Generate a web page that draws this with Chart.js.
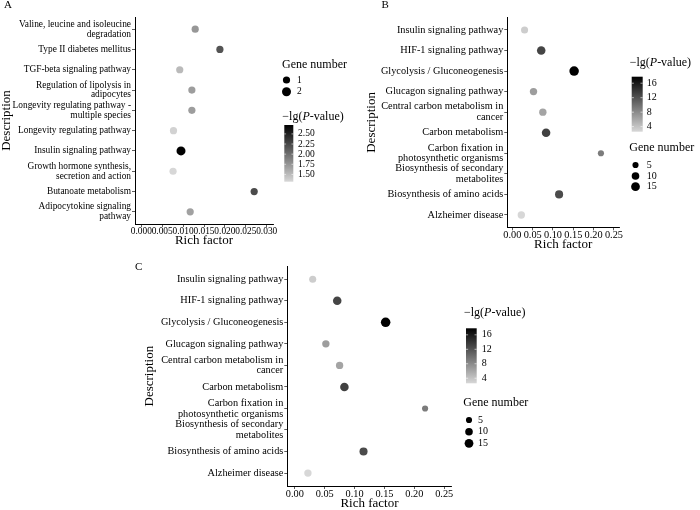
<!DOCTYPE html>
<html>
<head>
<meta charset="utf-8">
<script src="https://cdn.jsdelivr.net/npm/chart.js@4.4.0/dist/chart.umd.min.js"></script>
<style>
  body { margin: 0; background: #fff; }
  #wrap { position: relative; width: 700px; height: 510px; overflow: hidden; }
  canvas { position: absolute; }
</style>
</head>
<body>
<div id="wrap">
  <canvas id="chart-a" width="350" height="250" style="left:0;top:0"></canvas>
  <canvas id="chart-b" width="350" height="250" style="left:350px;top:0"></canvas>
  <canvas id="chart-c" width="420" height="260" style="left:130px;top:250px"></canvas>
</div>
<script>
// panel A, top to bottom
const pathwaysA = [
  "Valine, leucine and isoleucine\ndegradation",
  "Type II diabetes mellitus",
  "TGF-beta signaling pathway",
  "Regulation of lipolysis in\nadipocytes",
  "Longevity regulating pathway -\nmultiple species",
  "Longevity regulating pathway",
  "Insulin signaling pathway",
  "Growth hormone synthesis,\nsecretion and action",
  "Butanoate metabolism",
  "Adipocytokine signaling\npathway"
];
const richA = [0.0129, 0.0188, 0.0092, 0.0121, 0.0121, 0.0077, 0.0095, 0.0076, 0.0270, 0.0117];
const genesA = [1, 1, 1, 1, 1, 1, 2, 1, 1, 1];
const lgpA = [1.74, 2.17, 1.51, 1.70, 1.70, 1.35, 2.72, 1.32, 2.23, 1.67];
const xTicksA = [0, 0.005, 0.010, 0.015, 0.020, 0.025, 0.030];
const geneBreaksA = [1, 2];
const lgpBreaksA = [1.50, 1.75, 2.00, 2.25, 2.50];

// panels B and C (same data), top to bottom
const pathwaysBC = [
  "Insulin signaling pathway",
  "HIF-1 signaling pathway",
  "Glycolysis / Gluconeogenesis",
  "Glucagon signaling pathway",
  "Central carbon metabolism in\ncancer",
  "Carbon metabolism",
  "Carbon fixation in\nphotosynthetic organisms",
  "Biosynthesis of secondary\nmetabolites",
  "Biosynthesis of amino acids",
  "Alzheimer disease"
];
const richBC = [0.030, 0.071, 0.152, 0.052, 0.075, 0.083, 0.218, null, 0.115, 0.022];
const genesBC = [8, 14, 19, 9, 9, 14, 5, null, 12, 9];
const lgpBC = [3.3, 12.9, 17.8, 6.7, 6.2, 13.2, 9.0, null, 12.5, 2.6];
const xTicksBC = [0, 0.05, 0.10, 0.15, 0.20, 0.25];
const geneBreaksBC = [5, 10, 15];
const lgpBreaksBC = [4, 8, 12, 16];

const FONT = '"Liberation Serif", "Times New Roman", serif';
const INK = '#000';

function grey(v, lo, hi) {
  const t = (v - lo) / (hi - lo);
  const g = Math.round(215 * (1 - t));
  return 'rgb(' + g + ',' + g + ',' + g + ')';
}

function drawLgTitle(ctx, x, y) {
  let cx = x;
  [['\u2212lg(', ''], ['P', 'italic '], ['-value)', '']].forEach(([t, st]) => {
    ctx.font = st + '12px ' + FONT;
    ctx.fillText(t, cx, y);
    cx += ctx.measureText(t).width;
  });
}

function sidePlugin(o) {
  return {
    id: 'side',
    afterDraw(chart) {
      const ctx = chart.ctx;
      ctx.save();
      ctx.fillStyle = INK;
      ctx.textAlign = 'left';
      ctx.textBaseline = 'middle';
      ctx.font = '11px ' + FONT;
      ctx.fillText(o.letter, o.letterX, o.letterY);

      // gene number legend
      const g = o.gene;
      ctx.font = '12px ' + FONT;
      ctx.fillText('Gene number', g.x, g.titleY);
      ctx.font = o.legendSize + 'px ' + FONT;
      o.geneBreaks.forEach((n, i) => {
        ctx.beginPath();
        ctx.arc(g.cx, g.rows[i], o.radius(n), 0, Math.PI * 2);
        ctx.fill();
        ctx.fillText(String(n), g.labelX, g.rows[i]);
      });

      // colour bar
      const c = o.cbar;
      const lo = Math.min(...o.lgp.filter(v => v != null));
      const hi = Math.max(...o.lgp.filter(v => v != null));
      drawLgTitle(ctx, c.x - 2, c.titleY);
      const grad = ctx.createLinearGradient(0, c.top, 0, c.bottom);
      grad.addColorStop(0, grey(hi, lo, hi));
      grad.addColorStop(1, grey(lo, lo, hi));
      ctx.fillStyle = grad;
      ctx.fillRect(c.x, c.top, c.w, c.bottom - c.top);
      ctx.font = o.legendSize + 'px ' + FONT;
      o.lgpBreaks.forEach(v => {
        const y = c.bottom - (v - lo) / (hi - lo) * (c.bottom - c.top);
        ctx.strokeStyle = '#fff';
        ctx.lineWidth = 0.6;
        ctx.beginPath();
        ctx.moveTo(c.x, y); ctx.lineTo(c.x + c.w / 5, y);
        ctx.moveTo(c.x + c.w, y); ctx.lineTo(c.x + c.w * 4 / 5, y);
        ctx.stroke();
        ctx.fillStyle = INK;
        ctx.fillText(o.lgpFmt(v), c.labelX, y);
      });
      ctx.restore();
    }
  };
}

function makeChart(id, o) {
  const pts = [], cols = [];
  const lo = Math.min(...o.lgp.filter(v => v != null));
  const hi = Math.max(...o.lgp.filter(v => v != null));
  o.pathways.forEach((p, i) => {
    if (o.rich[i] == null) return;
    pts.push({ x: o.rich[i], y: i, r: o.radius(o.genes[i]) });
    cols.push(grey(o.lgp[i], lo, hi));
  });
  const tickFont = { family: FONT, size: o.tickSize, lineHeight: 1.05 };
  const axisGrid = { drawOnChartArea: false, drawTicks: true, tickLength: 3, color: '#333', lineWidth: 0.8 };
  const axisBorder = { display: true, color: '#000', width: 1 };
  return new Chart(document.getElementById(id), {
    type: 'bubble',
    data: {
      datasets: [{
        data: pts,
        backgroundColor: cols,
        borderWidth: 0
      }]
    },
    options: {
      responsive: false,
      animation: false,
      events: [],
      layout: { padding: o.padding },
      plugins: { legend: { display: false }, tooltip: { enabled: false } },
      scales: {
        x: {
          type: 'linear',
          min: o.xMin,
          max: o.xMax,
          grid: axisGrid,
          border: axisBorder,
          afterBuildTicks: s => { s.ticks = o.xTicks.map(v => ({ value: v })); },
          afterFit: s => { s.height = o.xHeight; },
          ticks: {
            autoSkip: false, maxRotation: 0, minRotation: 0, padding: o.xTickPad,
            color: INK, font: tickFont,
            callback: v => v.toFixed(o.decimals)
          },
          title: {
            display: true, text: 'Rich factor', color: INK,
            font: { family: FONT, size: 13, lineHeight: 1 },
            padding: { top: 0, bottom: o.xTitlePad }
          }
        },
        y: {
          type: 'linear',
          reverse: true,
          min: -0.6,
          max: o.pathways.length - 0.4,
          grid: axisGrid,
          border: axisBorder,
          afterBuildTicks: s => { s.ticks = o.pathways.map((p, i) => ({ value: i })); },
          afterFit: s => { s.width = o.yWidth; },
          ticks: {
            autoSkip: false, padding: 1, color: INK, font: tickFont,
            callback: v => (o.pathways[v] || '').split('\n')
          },
          title: {
            display: true, text: 'Description', color: INK,
            font: { family: FONT, size: 13, lineHeight: 1 },
            padding: { top: 0, bottom: 0 }
          }
        }
      }
    },
    plugins: [sidePlugin(o)]
  });
}

const radiusA = n => 1.43 + 2.17 * Math.sqrt(n);
const radiusBC = n => 1.3 + 0.794 * Math.sqrt(n);

makeChart('chart-a', {
  pathways: pathwaysA, rich: richA, genes: genesA, lgp: lgpA,
  xTicks: xTicksA, xMin: -0.0015, xMax: 0.0315, decimals: 3,
  radius: radiusA, tickSize: 9.4, legendSize: 9.5,
  padding: { left: 0, top: 17, right: 77, bottom: 0 },
  yWidth: 135, xHeight: 26, xTickPad: 0, xTitlePad: 2.5,
  letter: 'A', letterX: 4, letterY: 5,
  geneBreaks: geneBreaksA, lgpBreaks: lgpBreaksA, lgpFmt: v => v.toFixed(2),
  gene: { x: 282, titleY: 65, cx: 286.5, rows: [80, 91.7], labelX: 297 },
  cbar: { x: 284.3, w: 9, top: 125, bottom: 181.7, titleY: 117, labelX: 298 }
});

const bcCommon = {
  pathways: pathwaysBC, rich: richBC, genes: genesBC, lgp: lgpBC,
  xTicks: xTicksBC, xMin: -0.0125, xMax: 0.2625, decimals: 2,
  radius: radiusBC, tickSize: 10.3, legendSize: 10,
  geneBreaks: geneBreaksBC, lgpBreaks: lgpBreaksBC, lgpFmt: v => String(v)
};

makeChart('chart-b', Object.assign({}, bcCommon, {
  padding: { left: 15, top: 17.6, right: 81, bottom: 0 },
  yWidth: 142.3, xHeight: 22.7, xTickPad: 0, xTitlePad: -1.5,
  letter: 'B', letterX: 31.5, letterY: 5,
  cbar: { x: 281.7, w: 11, top: 76.7, bottom: 131.7, titleY: 62.7, labelX: 296.7 },
  gene: { x: 279.3, titleY: 148.3, cx: 285.5, rows: [165, 176, 186.7], labelX: 296.7 }
}));

makeChart('chart-c', Object.assign({}, bcCommon, {
  padding: { left: 13.5, top: 16.3, right: 98.3, bottom: 0 },
  yWidth: 143.8, xHeight: 24, xTickPad: 0, xTitlePad: 0.2,
  letter: 'C', letterX: 5, letterY: 16.7,
  cbar: { x: 336, w: 10.7, top: 78.3, bottom: 133.3, titleY: 63.3, labelX: 351.7 },
  gene: { x: 333.3, titleY: 152.7, cx: 339, rows: [170, 181.7, 193.3], labelX: 348 }
}));
</script>
</body>
</html>
